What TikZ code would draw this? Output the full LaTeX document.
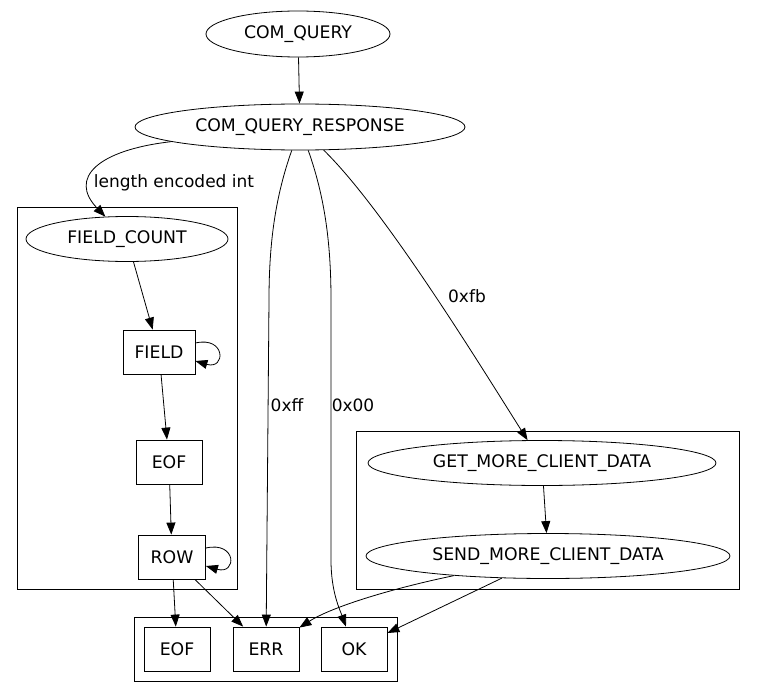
\documentclass[tikz,border=0pt]{standalone}
\usepackage{fontspec}
\setmainfont{DejaVu Sans}
\usetikzlibrary{arrows.meta,shapes.geometric}

\begin{document}
\begin{tikzpicture}[x=1pt,y=-1pt,
    state/.style={draw,ellipse,line width=0.8pt,inner sep=0pt,font=\fontsize{17.3}{20}\selectfont},
    packet/.style={draw,rectangle,line width=0.8pt,inner sep=0pt,minimum width=66pt,minimum height=44pt,font=\fontsize{17.3}{20}\selectfont},
    group/.style={line width=0.9pt},
    flow/.style={line width=0.8pt,-{Triangle[length=12pt,width=9pt]}},
    cond/.style={inner sep=0pt,font=\fontsize{17}{20}\selectfont}]

  \useasboundingbox (0,0) rectangle (776,698);

  % --- the three clusters ---
  \draw[group] ( 17,207) rectangle (237,589);
  \draw[group] (356,431) rectangle (739,589);
  \draw[group] (134,617) rectangle (397,681);

  % --- the states ---
  \node[state,minimum width=184pt,minimum height=46pt] (cq)   at (298, 34) {COM\_QUERY};
  \node[state,minimum width=330pt,minimum height=46pt] (cqr)  at (300,127) {COM\_QUERY\_RESPONSE};
  \node[state,minimum width=202pt,minimum height=45pt] (fc)   at (127,239) {FIELD\_COUNT};
  \node[state,minimum width=348pt,minimum height=45pt] (get)  at (542,463) {GET\_MORE\_CLIENT\_DATA};
  \node[state,minimum width=364pt,minimum height=45pt] (send) at (548,556) {SEND\_MORE\_CLIENT\_DATA};

  \node[packet,minimum width=72pt] (field) at (159,352) {FIELD};
  \node[packet] (eofa) at (169,462) {EOF};
  \node[packet,minimum width=67pt] (row) at (172,557) {ROW};
  \node[packet] (eofb) at (177,649) {EOF};
  \node[packet] (err)  at (266,649) {ERR};
  \node[packet] (ok)   at (354,649) {OK};

  % --- the edges ---
  \draw[flow] (cq) -- (cqr);
  \draw[flow] (cqr) .. controls (98,150) and (68,178) .. (fc);
  \draw[flow] (cqr) .. controls (276,195) and (269,240) .. (269,300) -- (err);
  \draw[flow] (cqr) .. controls (324,195) and (331,240) .. (331,300) -- (331,560)
                    .. controls (331,592) and (340,610) .. (ok);
  \draw[flow] (cqr) .. controls (385,210) and (480,365) .. (get);

  \draw[flow] (fc) -- (field);
  \draw[flow] ([shift={(0,-9)}]field.east) .. controls (226,336) and (226,370) .. ([shift={(0,9)}]field.east);
  \draw[flow] (field) -- (eofa);
  \draw[flow] (eofa) -- (row);
  \draw[flow] ([shift={(0,-9)}]row.east) .. controls (237,541) and (237,575) .. ([shift={(0,9)}]row.east);
  \draw[flow] (row) -- (eofb);
  \draw[flow] (row) -- (err);

  \draw[flow] (get) -- (send);
  \draw[flow] (send) .. controls (385,590) and (330,608) .. (err);
  \draw[flow] (send) -- (ok);

  % --- edge labels ---
  \node[cond] (lenlbl)  at (174,183) {length encoded int};
  \node[cond] (fflbl)   at (287,405) {0xff};
  \node[cond] (zerolbl) at (353,405) {0x00};
  \node[cond] (fblbl)   at (467,296) {0xfb};
\end{tikzpicture}
\end{document}
